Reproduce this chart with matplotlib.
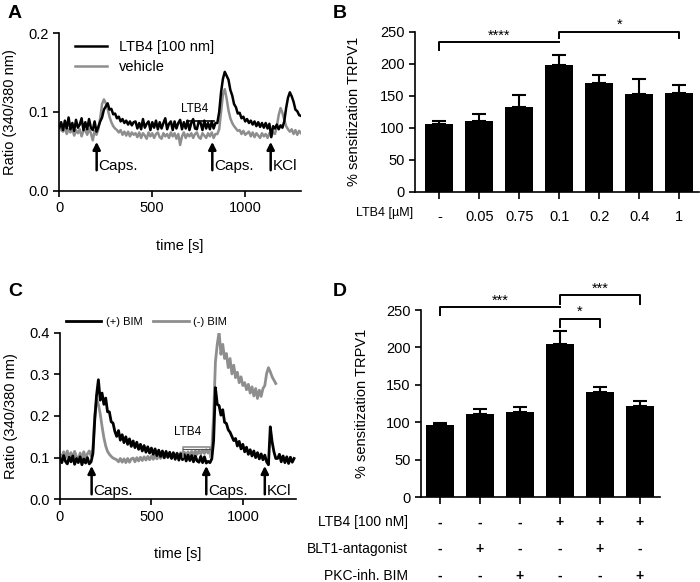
import matplotlib
matplotlib.use("Agg")
from matplotlib import pyplot as plt
from matplotlib import transforms as mtrans
import numpy as np

plt.rcParams['font.family'] = ['Liberation Sans', 'DejaVu Sans']

# ---- panel A traces (ratio 340/380, sampled every 10 s) ----
time_a = list(range(0, 1310, 10))
ltb4_a = [0.080, 0.087, 0.077, 0.089, 0.079, 0.093, 0.078, 0.086, 0.076, 0.090, 0.080, 0.084, 0.092, 0.077, 0.087,
          0.078, 0.091, 0.080, 0.077, 0.088, 0.075,
          0.081, 0.088, 0.093, 0.103, 0.107,
          0.111, 0.103, 0.104, 0.097, 0.098, 0.092, 0.094, 0.088, 0.091, 0.086, 0.089, 0.084, 0.088, 0.083, 0.087,
          0.088, 0.079, 0.086, 0.078, 0.091, 0.080, 0.085, 0.088, 0.077, 0.087,
          0.080, 0.089, 0.078, 0.087, 0.079, 0.086, 0.092, 0.078, 0.085, 0.088,
          0.077, 0.088, 0.079, 0.086, 0.090, 0.078, 0.087, 0.079, 0.089, 0.077,
          0.086, 0.091, 0.079, 0.078, 0.088, 0.086, 0.077, 0.089, 0.079, 0.086,
          0.078, 0.088, 0.079, 0.086,
          0.086, 0.100, 0.125, 0.142, 0.151, 0.146,
          0.141, 0.128, 0.121, 0.110, 0.106, 0.098, 0.099, 0.092, 0.094, 0.088,
          0.091, 0.086, 0.089, 0.084, 0.088, 0.082, 0.087, 0.081, 0.086, 0.080,
          0.086, 0.079, 0.085, 0.068, 0.082, 0.079, 0.084, 0.078, 0.083, 0.080,
          0.088, 0.105, 0.118, 0.125, 0.120, 0.113, 0.103, 0.101, 0.096, 0.095]
vehicle_a = [0.082, 0.077, 0.075, 0.080, 0.072, 0.078, 0.074, 0.079, 0.070, 0.077, 0.073, 0.078, 0.069, 0.076, 0.077,
             0.071, 0.078, 0.073, 0.064, 0.076, 0.071,
             0.078, 0.092, 0.110, 0.116, 0.111,
             0.104, 0.094, 0.087, 0.082, 0.079, 0.077, 0.074, 0.077, 0.071, 0.075, 0.070, 0.075, 0.069, 0.074, 0.071,
             0.073, 0.068, 0.074, 0.067, 0.073, 0.070, 0.066, 0.074, 0.069, 0.073,
             0.067, 0.072, 0.074, 0.068, 0.066, 0.073, 0.069, 0.072, 0.067, 0.074,
             0.069, 0.073, 0.066, 0.072, 0.058, 0.069, 0.074, 0.067, 0.072, 0.069,
             0.073, 0.067, 0.072, 0.074, 0.068, 0.066, 0.073, 0.070, 0.067, 0.073,
             0.069, 0.074, 0.067, 0.072,
             0.072, 0.078, 0.100, 0.122, 0.129, 0.117,
             0.102, 0.092, 0.086, 0.082, 0.079, 0.076, 0.077, 0.072, 0.076, 0.071,
             0.073, 0.075, 0.069, 0.074, 0.068, 0.073, 0.070, 0.067, 0.073, 0.069,
             0.072, 0.067, 0.073, 0.069, 0.074, 0.072, 0.082, 0.096, 0.105, 0.099,
             0.090, 0.082, 0.078, 0.075, 0.078, 0.072, 0.077, 0.071, 0.076, 0.073]

# ---- panel C traces ----
time_c_pos = list(range(0, 1290, 10))
bim_pos = [0.098, 0.088, 0.105, 0.091, 0.085, 0.101, 0.090, 0.104, 0.084, 0.098, 0.088, 0.102, 0.083, 0.097, 0.087,
           0.100, 0.085, 0.090,
           0.110, 0.190, 0.250, 0.287,
           0.238, 0.255, 0.228, 0.243, 0.210, 0.210, 0.186, 0.183, 0.163,
           0.151, 0.165, 0.142, 0.155, 0.136, 0.150, 0.132, 0.145, 0.127, 0.140,
           0.124, 0.137, 0.120, 0.132, 0.116, 0.129, 0.113, 0.126, 0.111, 0.123,
           0.108, 0.121, 0.105, 0.118, 0.103, 0.116, 0.100, 0.115, 0.101, 0.113,
           0.098, 0.112, 0.096, 0.110, 0.094, 0.109, 0.095, 0.107, 0.092, 0.106,
           0.093, 0.105, 0.090, 0.104, 0.092, 0.089, 0.103, 0.088, 0.102, 0.087,
           0.091, 0.088, 0.097,
           0.140, 0.268, 0.228, 0.225, 0.202, 0.215, 0.185,
           0.182, 0.167, 0.161, 0.151, 0.141, 0.146, 0.128, 0.139, 0.121, 0.132,
           0.114, 0.125, 0.108, 0.119, 0.104, 0.116, 0.100, 0.112, 0.097, 0.109,
           0.095, 0.106, 0.090, 0.083, 0.174, 0.138, 0.114, 0.098, 0.098, 0.108,
           0.090, 0.104, 0.088, 0.102, 0.086, 0.101, 0.089, 0.098]
time_c_neg = list(range(0, 1190, 10))
bim_neg = [0.108, 0.098, 0.114, 0.100, 0.116, 0.099, 0.112, 0.097, 0.115, 0.102, 0.095, 0.111, 0.098, 0.114, 0.100,
           0.109, 0.116, 0.104,
           0.120, 0.200, 0.240, 0.228,
           0.205, 0.175, 0.148, 0.128, 0.115, 0.108, 0.103, 0.099, 0.097,
           0.095, 0.090, 0.098, 0.089, 0.097, 0.088, 0.098, 0.089, 0.097, 0.099,
           0.090, 0.100, 0.092, 0.101, 0.093, 0.102, 0.094, 0.103, 0.095, 0.104,
           0.096, 0.105, 0.097, 0.106, 0.098, 0.107, 0.099, 0.108, 0.100, 0.109,
           0.101, 0.110, 0.102, 0.111, 0.103, 0.112, 0.104, 0.113, 0.105, 0.114,
           0.106, 0.115, 0.107, 0.116, 0.108, 0.117, 0.109, 0.118, 0.110, 0.119,
           0.111, 0.118, 0.118,
           0.200, 0.330, 0.372, 0.402, 0.348, 0.372, 0.338,
           0.350, 0.316, 0.338, 0.301, 0.322, 0.292, 0.305, 0.280, 0.294, 0.273,
           0.280, 0.263, 0.276, 0.255, 0.270, 0.248, 0.266, 0.242, 0.262, 0.247,
           0.266, 0.273, 0.302, 0.316, 0.306, 0.294, 0.286, 0.278]

# ---- panel B bars ----
conc_labels = ['-', '0.05', '0.75', '0.1', '0.2', '0.4', '1']
sens_b = [106, 110, 133, 198, 170, 153, 154]
err_b = [5, 11, 18, 15, 12, 23, 12]

# ---- panel D bars ----
sens_d = [96, 111, 114, 205, 140, 122]
err_d = [3, 7, 6, 17, 7, 6]
row_names = ['LTB4 [100 nM]', 'BLT1-antagonist', 'PKC-inh. BIM']
row_ltb4 = ['-', '-', '-', '+', '+', '+']
row_blt1 = ['-', '+', '-', '-', '+', '-']
row_bim = ['-', '-', '+', '-', '-', '+']

GREY = '#8e8e8e'

fig = plt.figure(figsize=(7, 5.82), dpi=100)
axA = fig.add_axes([0.0847, 0.6724, 0.3453, 0.2704])
axB = fig.add_axes([0.5929, 0.6706, 0.4057, 0.275])
axC = fig.add_axes([0.0857, 0.1421, 0.337, 0.2863])
axD = fig.add_axes([0.6014, 0.1455, 0.3414, 0.3218])


def style(ax):
    for s in ['top', 'right']:
        ax.spines[s].set_visible(False)
    for s in ['left', 'bottom']:
        ax.spines[s].set_linewidth(1.2)
    ax.tick_params(width=1.2, length=4, labelsize=10.5, direction='out')


def arrow(ax, x, y0, y1, label, tx, ty):
    ax.annotate('', xy=(x, y1), xytext=(x, y0),
                arrowprops=dict(arrowstyle='-|>', lw=1.8, color='black', mutation_scale=11, shrinkA=0, shrinkB=0))
    ax.text(tx, ty, label, ha='left', va='center', fontsize=11)


# ---------------- A ----------------
style(axA)
axA.plot(time_a, vehicle_a, color=GREY, lw=1.8, label='vehicle', zorder=2)
axA.plot(time_a, ltb4_a, color='black', lw=1.8, label='LTB4 [100 nm]', zorder=3)
h, l = axA.get_legend_handles_labels()
axA.legend(h[::-1], l[::-1], loc='upper left', bbox_to_anchor=(0.01, 1.04), frameon=False, fontsize=10.5,
           handlelength=2.2, handletextpad=0.8, labelspacing=0.4)
axA.set_xlim(0, 1300)
axA.set_ylim(0, 0.2)
axA.set_xticks([0, 500, 1000])
axA.set_yticks([0.0, 0.1, 0.2])
axA.set_yticklabels(['0.0', '0.1', '0.2'])
axA.set_xlabel('time [s]', fontsize=10.5, labelpad=17)
axA.set_ylabel('Ratio (340/380 nm)', fontsize=10.5, labelpad=8)
arrow(axA, 201, 0.026, 0.062, 'Caps.', 212, 0.031)
arrow(axA, 823, 0.026, 0.062, 'Caps.', 834, 0.031)
arrow(axA, 1137, 0.026, 0.062, 'KCl', 1148, 0.031)
axA.plot([685, 833], [0.0886, 0.0886], color='black', lw=1.2, zorder=4)
axA.text(730, 0.104, 'LTB4', ha='center', va='center', fontsize=8.5)

# ---------------- C ----------------
style(axC)
axC.plot(time_c_neg, bim_neg, color=GREY, lw=2.0, label='(-) BIM', zorder=2)
axC.plot(time_c_pos, bim_pos, color='black', lw=2.0, label='(+) BIM', zorder=3)
h, l = axC.get_legend_handles_labels()
axC.legend(h[::-1], l[::-1], loc='lower left', bbox_to_anchor=(0.0, 1.0), ncol=2, frameon=False, fontsize=8,
           handlelength=3.2, handletextpad=0.4, columnspacing=1.0, borderaxespad=0.1)
axC.set_xlim(0, 1290)
axC.set_ylim(0, 0.4)
axC.set_xticks([0, 500, 1000])
axC.set_yticks([0.0, 0.1, 0.2, 0.3, 0.4])
axC.set_yticklabels(['0.0', '0.1', '0.2', '0.3', '0.4'])
axC.set_xlabel('time [s]', fontsize=10.5, labelpad=17)
axC.set_ylabel('Ratio (340/380 nm)', fontsize=10.5, labelpad=8)
arrow(axC, 173, 0.012, 0.08, 'Caps.', 183, 0.020)
arrow(axC, 800, 0.012, 0.08, 'Caps.', 810, 0.020)
arrow(axC, 1120, 0.012, 0.08, 'KCl', 1130, 0.020)
axC.plot([672, 672, 818, 818], [0.102, 0.125, 0.125, 0.102], color=GREY, lw=1.2, zorder=4)
axC.plot([672, 818], [0.121, 0.121], color='#555555', lw=0.8, zorder=4)
axC.text(700, 0.162, 'LTB4', ha='center', va='center', fontsize=8.5)


def bracket(ax, x0, x1, ytop, ylow0, ylow1, star, sx, sy):
    ax.plot([x0, x0, x1, x1], [ylow0, ytop, ytop, ylow1], color='black', lw=1.4, clip_on=False)
    ax.text(sx, sy, star, ha='center', va='center', fontsize=10.5, clip_on=False)


# ---------------- B ----------------
style(axB)
xb = np.arange(len(sens_b))
axB.bar(xb, sens_b, width=0.7, color='black', zorder=3)
axB.errorbar(xb, sens_b, yerr=[np.zeros(len(err_b)), err_b], fmt='none', ecolor='black', elinewidth=1.5,
             capsize=5, capthick=1.5, zorder=2)
axB.set_xlim(-0.61, 6.5)
axB.set_ylim(0, 250)
axB.set_yticks(range(0, 251, 50))
axB.set_xticks(xb)
axB.set_xticklabels(conc_labels)
axB.tick_params(axis='x', length=5, pad=8)
axB.set_ylabel('% sensitization TRPV1', fontsize=10.5, labelpad=14)
bracket(axB, 0, 3, 234, 222, 234, '****', 1.5, 244)
bracket(axB, 3, 6, 250, 240, 240, '*', 4.5, 261)
fig.text(413 / 700, 1 - 213 / 582, 'LTB4 [\u00b5M]', ha='right', va='center', fontsize=9)

# ---------------- D ----------------
style(axD)
xd = np.arange(len(sens_d))
axD.bar(xd, sens_d, width=0.7, color='black', zorder=3)
axD.errorbar(xd, sens_d, yerr=[np.zeros(len(err_d)), err_d], fmt='none', ecolor='black', elinewidth=1.5,
             capsize=5, capthick=1.5, zorder=2)
axD.set_xlim(-0.475, 5.5)
axD.set_ylim(0, 250)
axD.set_yticks(range(0, 251, 50))
axD.set_xticks(xd)
axD.set_xticklabels([])
axD.tick_params(axis='x', length=5)
axD.set_ylabel('% sensitization TRPV1', fontsize=10.5, labelpad=12)
bracket(axD, 0, 3, 254, 243, 254, '***', 1.5, 263)
bracket(axD, 3, 4, 238, 228, 228, '*', 3.5, 248)
bracket(axD, 3, 5, 270, 258, 258, '***', 4.0, 279)

tr = mtrans.blended_transform_factory(axD.transData, fig.transFigure)
row_y = [1 - 522.3 / 582, 1 - 549 / 582, 1 - 575.7 / 582]
for name, signs, yy in zip(row_names, [row_ltb4, row_blt1, row_bim], row_y):
    fig.text(408 / 700, yy, name, ha='right', va='center', fontsize=10)
    for xi, s in zip(xd, signs):
        fig.text(xi, yy, s, transform=tr, ha='center', va='center', fontsize=10, fontweight='bold')

# panel letters
for letter, px, py in [('A', 8, 13), ('B', 333, 13), ('C', 8, 292), ('D', 333, 292)]:
    fig.text(px / 700, 1 - py / 582, letter, ha='left', va='center', fontsize=14, fontweight='bold')

fig.savefig('out.png', dpi=100)
